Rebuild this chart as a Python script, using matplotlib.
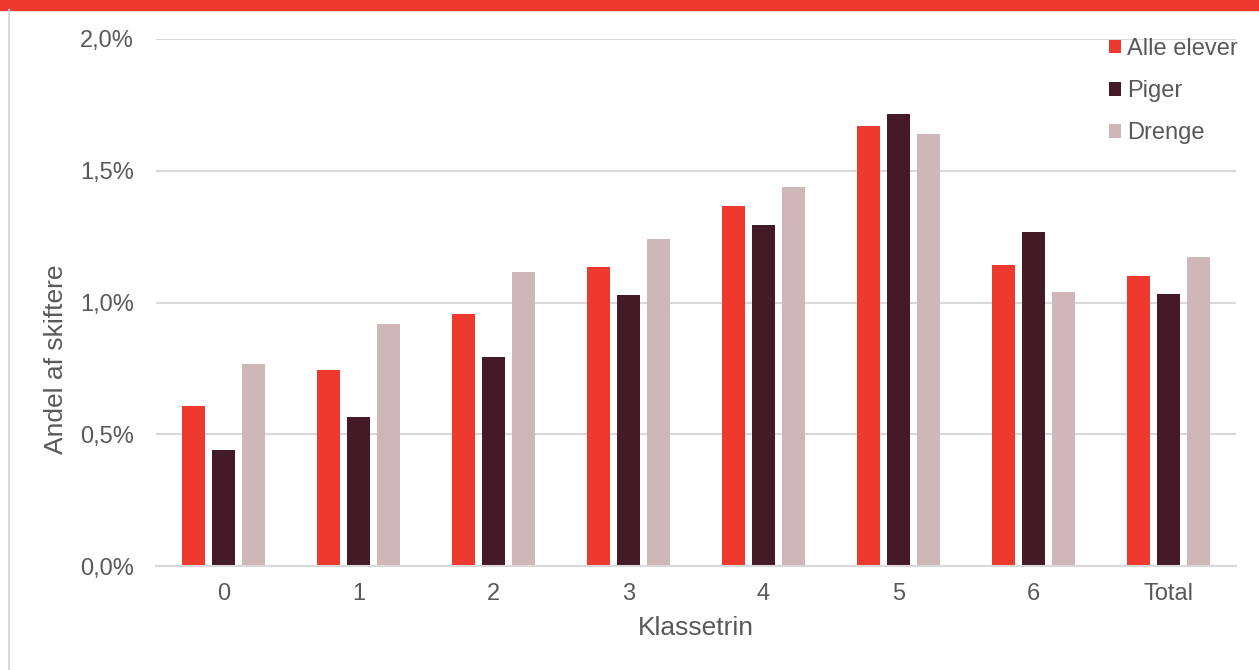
import matplotlib.pyplot as plt
import matplotlib.ticker as mticker
import numpy as np

plt.rcParams['font.family'] = ['Liberation Sans', 'DejaVu Sans']

klassetrin = ["0", "1", "2", "3", "4", "5", "6", "Total"]
alle_elever = [0.607, 0.744, 0.956, 1.135, 1.366, 1.671, 1.143, 1.100]
piger = [0.440, 0.565, 0.793, 1.028, 1.294, 1.714, 1.266, 1.031]
drenge = [0.767, 0.918, 1.116, 1.241, 1.438, 1.638, 1.039, 1.173]

farver = ["#EE3A2E", "#431A26", "#CEB6B9"]
tekstfarve = "#595959"

fig = plt.figure(figsize=(12.59, 6.70), dpi=100)
ax = fig.add_axes([156 / 1259, 1 - 566 / 670, (1236 - 156) / 1259, (566 - 39) / 670])

# roed bjaelke i toppen og graa linje til venstre
fig.patches.append(plt.Rectangle((0, 1 - 10 / 670), 1, 10 / 670, transform=fig.transFigure,
                                 color="#EE3A2E", zorder=0))
fig.lines.append(plt.Line2D([8.5 / 1259, 8.5 / 1259], [0, 1 - 10 / 670], transform=fig.transFigure,
                            color="#D9D9D9", lw=1.5))

x = np.arange(len(klassetrin))
bredde = 0.174
afstand = 0.222
for i, (vaerdier, navn) in enumerate(zip([alle_elever, piger, drenge], ["Alle elever", "Piger", "Drenge"])):
    ax.bar(x + (i - 1) * afstand, vaerdier, bredde, color=farver[i], label=navn, zorder=3)

ax.set_xlim(-0.5, 7.5)
ax.set_ylim(0, 2.0)
ax.set_yticks([0, 0.5, 1.0, 1.5, 2.0])
ax.yaxis.set_major_formatter(mticker.FuncFormatter(lambda v, p: f"{v:.1f}%".replace(".", ",")))
ax.set_xticks(x)
ax.set_xticklabels(klassetrin)
ax.grid(axis="y", color="#D9D9D9", lw=1.5, zorder=0)
for s in ["top", "right", "left"]:
    ax.spines[s].set_visible(False)
ax.spines["bottom"].set_color("#D9D9D9")
ax.spines["bottom"].set_linewidth(1.5)
ax.spines["bottom"].set_zorder(4)
ax.tick_params(length=0, labelsize=17, labelcolor=tekstfarve)
ax.tick_params(axis="x", pad=12)
ax.tick_params(axis="y", pad=16)

ax.set_xlabel("Klassetrin", fontsize=19, color=tekstfarve)
ax.xaxis.set_label_coords(0.5, -0.095)
ax.set_ylabel("Andel af skiftere", fontsize=19, color=tekstfarve)
ax.yaxis.set_label_coords(-0.0815, 0.393)

leg = ax.legend(loc="upper right", bbox_to_anchor=(1.021, 1.042), frameon=False, fontsize=17,
                handlelength=0.5, handleheight=0.5, handletextpad=0.25, labelspacing=0.85,
                labelcolor=tekstfarve)

fig.savefig("out.png", dpi=100)
